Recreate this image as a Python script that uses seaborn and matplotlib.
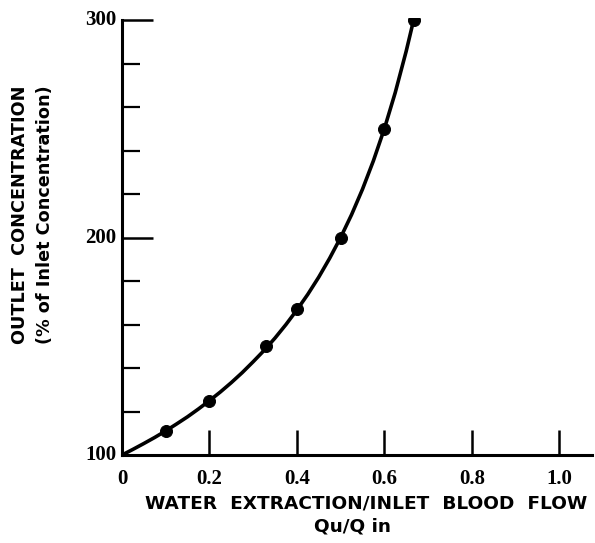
import matplotlib
matplotlib.use("Agg")
import matplotlib.pyplot as plt
import seaborn as sns
import pandas as pd

# Data
point_x = [0.1, 0.2, 0.33, 0.4, 0.5, 0.6, 0.667]
point_y = [111, 125, 150, 167, 200, 250, 300]
curve_x = [0.0, 0.025, 0.05, 0.075, 0.1, 0.125, 0.15, 0.175, 0.2, 0.225, 0.25, 0.275,
           0.3, 0.325, 0.35, 0.375, 0.4, 0.425, 0.45, 0.475, 0.5, 0.525, 0.55, 0.575,
           0.6, 0.625, 0.65, 0.667]
curve_y = [100, 102.6, 105.3, 108.1, 111.1, 114.3, 117.6, 121.2, 125, 129, 133.3, 137.9,
           142.9, 148.1, 153.8, 160, 166.7, 173.9, 181.8, 190.5, 200, 210.5, 222.2, 235.3,
           250, 266.7, 285.7, 300]
x_ticks = [0.2, 0.4, 0.6, 0.8, 1.0]
x_tick_labels = ["0.2", "0.4", "0.6", "0.8", "1.0"]
y_major = [200, 300]
y_minor = [120, 140, 160, 180, 220, 240, 260, 280]

sns.set_style("ticks")
plt.rcParams['font.family'] = ['DejaVu Sans']

fig = plt.figure(figsize=(5.95, 5.43), dpi=100)
ax = fig.add_axes([0.205, 0.162, 0.79, 0.805])

curve = pd.DataFrame({"x": curve_x, "y": curve_y})
pts = pd.DataFrame({"x": point_x, "y": point_y})
sns.lineplot(data=curve, x="x", y="y", ax=ax, color="black", linewidth=2.6, sort=True)
sns.scatterplot(data=pts, x="x", y="y", ax=ax, color="black", s=75, edgecolor="black", zorder=5)

ax.set_xlim(0, 1.075)
ax.set_ylim(100, 301)
for s in ["top", "right"]:
    ax.spines[s].set_visible(False)
for s in ["left", "bottom"]:
    ax.spines[s].set_linewidth(2.2)
    ax.spines[s].set_color("black")
ax.spines["left"].set_bounds(100, 300)

ax.set_xticks(x_ticks)
ax.set_xticklabels([])
ax.set_yticks(y_major)
ax.set_yticklabels([])
ax.set_yticks(y_minor, minor=True)
ax.tick_params(axis="x", direction="in", length=18, width=1.8, color="black")
ax.tick_params(axis="y", which="major", direction="in", length=22, width=1.8, color="black")
ax.tick_params(axis="y", which="minor", direction="in", length=13, width=1.6, color="black")
ax.set_xlabel("")
ax.set_ylabel("")

serif = dict(family="Liberation Serif", fontweight="bold", fontsize=15, color="black")
for v, lab in zip(x_ticks, x_tick_labels):
    ax.text(v, -0.055, lab, transform=ax.get_xaxis_transform(), ha="center", va="center", **serif)
ax.text(0, -0.055, "0", transform=ax.get_xaxis_transform(), ha="center", va="center", **serif)
for v in [100, 200, 300]:
    ax.text(-0.012, v, str(v), transform=ax.get_yaxis_transform(), ha="right", va="center", **serif)

sans = dict(family="DejaVu Sans", fontweight="bold", fontsize=13.3, color="black")
fig.text(366 / 595, 1 - 503 / 543, "WATER  EXTRACTION/INLET  BLOOD  FLOW", ha="center", va="center", **sans)
fig.text(352 / 595, 1 - 527 / 543, "Qu/Q in", ha="center", va="center", **sans)
ysans = dict(sans, fontsize=12.7)
fig.text(20 / 595, 0.604, "OUTLET  CONCENTRATION", rotation=90, ha="center", va="center", **ysans)
fig.text(45 / 595, 0.604, "(% of Inlet Concentration)", rotation=90, ha="center", va="center", **ysans)

fig.savefig("out.png", dpi=100)
